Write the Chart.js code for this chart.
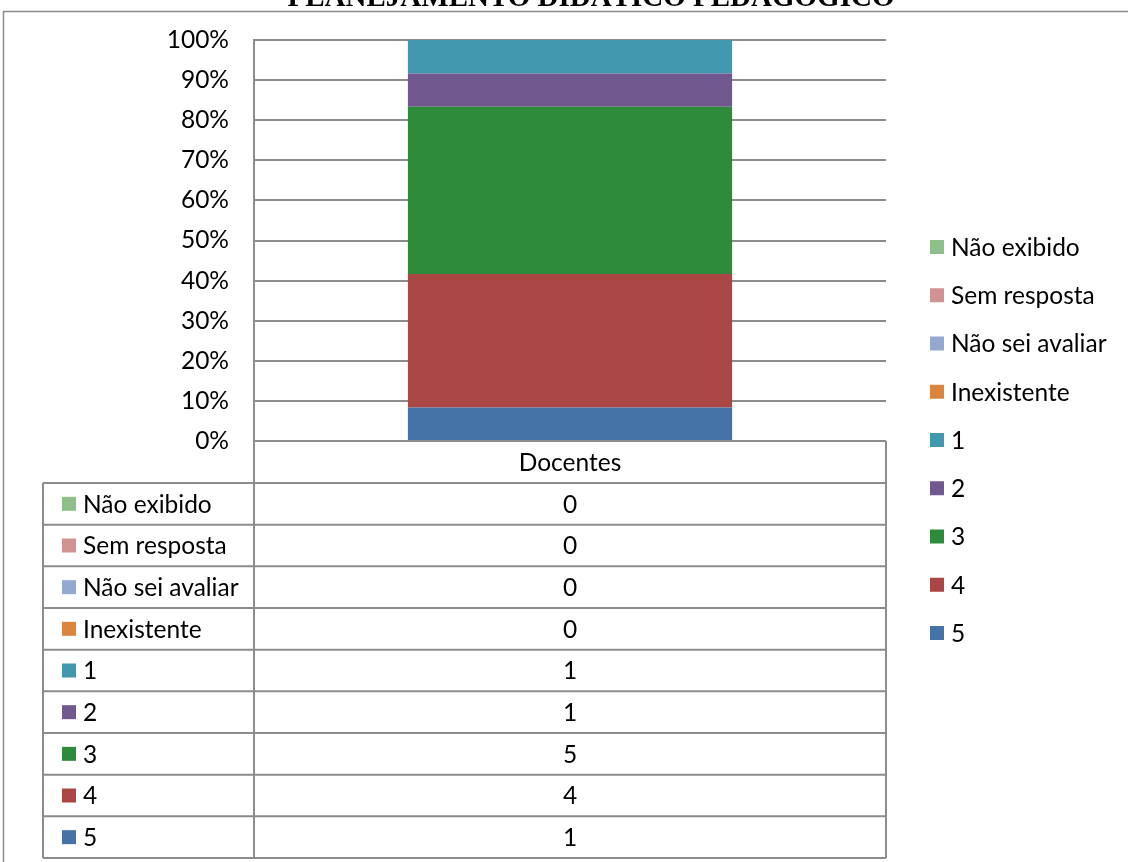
<!DOCTYPE html>
<html><head><meta charset="utf-8">
<script src="https://cdn.jsdelivr.net/npm/chart.js@4.4.1/dist/chart.umd.min.js"></script>
<style>html,body{margin:0;padding:0;background:#fff;overflow:hidden}#wrap{width:1128px;height:862px;position:relative}</style>
</head><body><div id="wrap"><canvas id="c" width="1128" height="862"></canvas></div>
<script>
const chartTitle = 'PLANEJAMENTO DIDÁTICO PEDAGÓGICO';
const categories = ['Docentes'];
const seriesLabels = ['5', '4', '3', '2', '1', 'Inexistente', 'Não sei avaliar', 'Sem resposta', 'Não exibido'];
const seriesCounts = [[1], [4], [5], [1], [1], [0], [0], [0], [0]];
const seriesColors = ['#4572A7', '#AA4643', '#2E8B3C', '#71588F', '#4198AF', '#DB843D', '#93A9CF', '#D19392', '#8DBF8B'];
const yTickStep = 10;

const FONT = 'Lato';
const FSIZE = 24.5;
const LINE = '#8c8c8c';

const totals = categories.map((_, ci) => seriesCounts.reduce((s, arr) => s + arr[ci], 0));
const datasets = seriesLabels.map((lab, i) => ({
  label: lab,
  data: seriesCounts[i].map((v, ci) => totals[ci] ? v / totals[ci] * 100 : 0),
  backgroundColor: seriesColors[i],
  borderWidth: 0,
  categoryPercentage: 1,
  barPercentage: 0.513
}));

const TABLE_ROW_H = (858 - 483) / seriesLabels.length;
const AXIS_ROW_H = 42;

const extrasPlugin = {
  id: 'extras',
  afterDraw(chart) {
    const ctx = chart.ctx;
    const ca = chart.chartArea;
    const xs = chart.scales.x;
    ctx.save();
    // outer frame
    ctx.strokeStyle = '#8a8a8a';
    ctx.lineWidth = 1.5;
    ctx.beginPath();
    ctx.moveTo(3.5, 862); ctx.lineTo(3.5, 11.5); ctx.lineTo(1128, 11.5);
    ctx.stroke();
    // title (cut off at the top)
    ctx.fillStyle = '#000';
    ctx.font = 'bold 29px "Liberation Serif"';
    ctx.textAlign = 'center';
    ctx.textBaseline = 'alphabetic';
    ctx.fillText(chartTitle, 591, 6);

    // table
    const tTop = ca.bottom + AXIS_ROW_H;
    const tBottom = tTop + TABLE_ROW_H * seriesLabels.length;
    const tLeft = 43;
    ctx.strokeStyle = LINE;
    ctx.lineWidth = 2;
    ctx.beginPath();
    ctx.moveTo(ca.left, ca.top); ctx.lineTo(ca.left, tBottom);
    ctx.moveTo(ca.right, ca.bottom); ctx.lineTo(ca.right, tBottom);
    ctx.moveTo(tLeft, tTop); ctx.lineTo(tLeft, tBottom);
    for (let r = 0; r <= seriesLabels.length; r++) {
      const y = tTop + r * TABLE_ROW_H;
      ctx.moveTo(tLeft, y); ctx.lineTo(ca.right, y);
    }
    ctx.stroke();

    ctx.font = FSIZE + 'px ' + FONT;
    ctx.textBaseline = 'middle';
    const order = seriesLabels.map((_, i) => i).reverse();
    order.forEach((si, r) => {
      const yc = tTop + r * TABLE_ROW_H + TABLE_ROW_H / 2;
      ctx.fillStyle = seriesColors[si];
      ctx.fillRect(62, yc - 7, 14, 14);
      ctx.fillStyle = '#000';
      ctx.textAlign = 'left';
      ctx.fillText(seriesLabels[si], 83, yc + 1);
      ctx.textAlign = 'center';
      categories.forEach((c, ci) => {
        ctx.fillText(String(seriesCounts[si][ci]), xs.getPixelForValue(ci), yc + 1);
      });
    });

    // right legend
    order.forEach((si, r) => {
      const yc = 247 + r * 48.25;
      ctx.fillStyle = seriesColors[si];
      ctx.fillRect(930, yc - 7, 14, 14);
      ctx.fillStyle = '#000';
      ctx.textAlign = 'left';
      ctx.fillText(seriesLabels[si], 951, yc + 1);
    });
    ctx.restore();
  }
};

new Chart(document.getElementById('c'), {
  type: 'bar',
  data: { labels: categories, datasets },
  options: {
    responsive: false,
    animation: false,
    devicePixelRatio: 1,
    layout: { padding: { top: 40, left: 0, right: 1128 - 886, bottom: 862 - 441 - AXIS_ROW_H } },
    plugins: { legend: { display: false }, tooltip: { enabled: false }, title: { display: false } },
    scales: {
      x: {
        stacked: true,
        grid: { display: false, drawTicks: false, tickLength: 0 },
        border: { display: false },
        ticks: { color: '#000', font: { family: FONT, size: FSIZE }, padding: 7 },
        afterFit(s) { s.height = AXIS_ROW_H; }
      },
      y: {
        stacked: true,
        min: 0, max: 100,
        grid: { color: LINE, lineWidth: 2, drawTicks: false, tickLength: 0 },
        border: { display: true, color: LINE, width: 2 },
        ticks: {
          stepSize: yTickStep,
          color: '#000',
          font: { family: FONT, size: FSIZE },
          padding: 25,
          callback: v => v + '%'
        },
        afterFit(s) { s.width = 254; }
      }
    }
  },
  plugins: [extrasPlugin]
});
</script>
</body></html>
